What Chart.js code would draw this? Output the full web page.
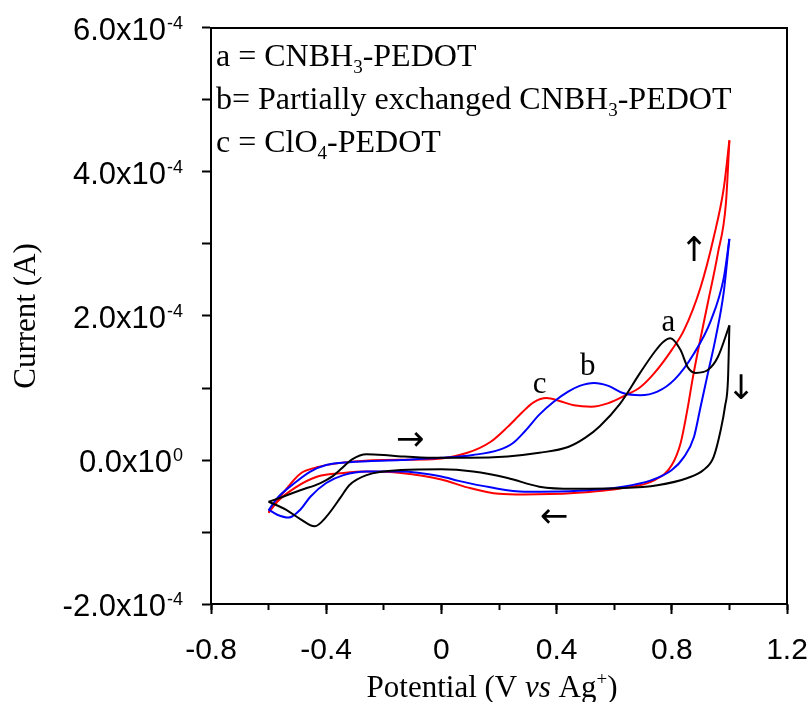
<!DOCTYPE html>
<html>
<head>
<meta charset="utf-8">
<script src="https://cdn.jsdelivr.net/npm/chart.js@4/dist/chart.umd.min.js"></script>
<style>
html,body{margin:0;padding:0;background:#fff;}
#wrap{width:812px;height:702px;position:relative;}
</style>
</head>
<body>
<div id="wrap"><canvas id="c"></canvas></div>
<script>
// Currents are given in units of 1e-4 A
const UNIT = 1e-4;

// a = CNBH3-PEDOT (black)
const aForwardV = [-0.60,-0.55,-0.49,-0.42,-0.376,-0.35,-0.31,-0.26,-0.20,-0.14,-0.03,0.10,0.23,0.34,0.44,0.50,0.55,0.62,0.69,0.74,0.77,0.795,0.83,0.855,0.883,0.925,0.96,1.00];
const aForwardI = [-0.58,-0.51,-0.42,-0.32,-0.22,-0.13,0.01,0.08,0.07,0.05,0.03,0.03,0.05,0.10,0.18,0.31,0.47,0.78,1.21,1.50,1.64,1.69,1.53,1.29,1.21,1.25,1.43,1.87];
const aReverseV = [1.00,0.995,0.985,0.97,0.945,0.91,0.855,0.75,0.63,0.46,0.34,0.23,0.11,0.0,-0.14,-0.26,-0.32,-0.35,-0.40,-0.44,-0.49,-0.54,-0.60];
const aReverseI = [1.87,1.11,0.75,0.42,0.04,-0.14,-0.25,-0.35,-0.39,-0.40,-0.37,-0.25,-0.16,-0.13,-0.14,-0.21,-0.35,-0.52,-0.79,-0.92,-0.82,-0.69,-0.58];

// b = partially exchanged CNBH3-PEDOT (blue)
const bForwardV = [-0.60,-0.57,-0.51,-0.455,-0.40,-0.32,-0.14,0.0,0.11,0.20,0.25,0.29,0.34,0.39,0.44,0.48,0.53,0.58,0.63,0.69,0.75,0.81,0.877,0.936,0.981,1.00];
const bForwardI = [-0.70,-0.53,-0.32,-0.16,-0.07,-0.03,0.0,0.03,0.07,0.14,0.24,0.40,0.63,0.81,0.95,1.03,1.07,1.03,0.93,0.90,0.95,1.12,1.48,1.94,2.54,3.07];
const bReverseV = [1.00,0.98,0.953,0.925,0.90,0.877,0.842,0.80,0.73,0.63,0.46,0.29,0.17,0.06,0.0,-0.14,-0.26,-0.34,-0.40,-0.455,-0.49,-0.53,-0.57,-0.60];
const bReverseI = [3.07,2.32,1.71,1.20,0.74,0.32,0.04,-0.14,-0.28,-0.37,-0.43,-0.44,-0.38,-0.29,-0.23,-0.16,-0.16,-0.21,-0.32,-0.51,-0.69,-0.80,-0.76,-0.69];

// c = ClO4-PEDOT (red)
const cForwardV = [-0.60,-0.55,-0.49,-0.432,-0.35,-0.20,-0.03,0.09,0.17,0.23,0.28,0.32,0.365,0.41,0.46,0.52,0.58,0.64,0.69,0.74,0.80,0.842,0.90,0.946,0.981,1.00];
const cForwardI = [-0.73,-0.46,-0.19,-0.10,-0.04,0.0,0.01,0.10,0.25,0.46,0.66,0.80,0.86,0.82,0.76,0.74,0.79,0.90,1.01,1.21,1.53,1.80,2.40,3.10,3.79,4.44];
const cReverseV = [1.00,0.988,0.96,0.925,0.889,0.872,0.855,0.831,0.80,0.74,0.63,0.46,0.285,0.20,0.09,0.0,-0.14,-0.26,-0.34,-0.43,-0.51,-0.57,-0.60];
const cReverseI = [4.44,3.57,2.87,2.18,1.48,1.12,0.72,0.24,-0.07,-0.28,-0.39,-0.46,-0.48,-0.47,-0.38,-0.27,-0.18,-0.16,-0.18,-0.23,-0.39,-0.58,-0.73];

// axis ticks
const xMajorTicks = [-0.8,-0.4,0,0.4,0.8,1.2];
const yTickValues = [6e-4,4e-4,2e-4,0,-2e-4];
const yTickMain = ['6.0x10','4.0x10','2.0x10','0.0x10','-2.0x10'];
const yTickExp = ['-4','-4','-4','0','-4'];

// annotations (data coordinates: potential V, current in 1e-4 A)
const peakLabels = ['a','b','c'];
const peakLabelV = [0.788,0.508,0.341];
const peakLabelI = [1.79,1.18,0.93];
const arrowGlyphs = ['\u2192','\u2190','\u2191','\u2193'];
const arrowV = [-0.108,0.391,0.877,1.04];
const arrowI = [0.26,-0.81,2.89,0.97];

function pts(V, I){ return V.map((v,i)=>({x:v, y:I[i]*UNIT})); }
function ds(V, I, color){
  return {data:pts(V,I), borderColor:color, backgroundColor:color, borderWidth:2, pointRadius:0, showLine:true,
    cubicInterpolationMode:'monotone', fill:false};
}

const SERIF = '"Liberation Serif", "Times New Roman", serif';
const SANS = '"Liberation Sans", Arial, sans-serif';

function drawRuns(ctx, runs, x, y, align){
  let total = 0;
  for (const r of runs){ ctx.font = r.font; r.w = ctx.measureText(r.t).width; total += r.w; }
  let cx = align === 'center' ? x - total/2 : (align === 'right' ? x - total : x);
  ctx.textAlign = 'left';
  ctx.textBaseline = 'alphabetic';
  for (const r of runs){ ctx.font = r.font; ctx.fillText(r.t, cx, y + (r.dy||0)); cx += r.w; }
}

const overlay = {
  id:'overlay',
  afterDraw(chart){
    const ctx = chart.ctx, ca = chart.chartArea, x = chart.scales.x, y = chart.scales.y;
    ctx.save();
    ctx.fillStyle = '#000';
    ctx.strokeStyle = '#000';
    ctx.lineWidth = 2;
    // frame: top and right
    ctx.beginPath();
    ctx.moveTo(ca.left - 1, ca.top);
    ctx.lineTo(ca.right, ca.top);
    ctx.lineTo(ca.right, ca.bottom + 1);
    ctx.stroke();

    // y tick labels with superscript exponents
    const mainF = '31px ' + SANS, expF = '18px ' + SANS;
    yTickValues.forEach((v,i)=>{
      const py = y.getPixelForValue(v);
      ctx.font = expF;
      const ew = ctx.measureText(yTickExp[i]).width;
      const right = 183;
      drawRuns(ctx, [{t:yTickMain[i], font:mainF}], right - ew - 1, py + 12, 'right');
      drawRuns(ctx, [{t:yTickExp[i], font:expF}], right, py + 0.5, 'right');
    });

    // axis titles
    const titleF = '31px ' + SERIF;
    drawRuns(ctx, [
      {t:'Potential (V ', font:titleF},
      {t:'vs', font:'italic 31px ' + SERIF},
      {t:' Ag', font:titleF},
      {t:'+', font:'19px ' + SERIF, dy:-12},
      {t:')', font:titleF}
    ], 492, 697, 'center');
    ctx.save();
    ctx.translate(27, 316);
    ctx.rotate(-Math.PI/2);
    ctx.font = titleF;
    ctx.textAlign = 'center';
    ctx.textBaseline = 'middle';
    ctx.fillText('Current (A)', 0, 0);
    ctx.restore();

    // legend text
    const lf = '32px ' + SERIF, sf = '19px ' + SERIF;
    const lx = ca.left + 5;
    drawRuns(ctx, [{t:'a = CNBH', font:lf},{t:'3', font:sf, dy:7},{t:'-PEDOT', font:lf}], lx, ca.top + 38, 'left');
    drawRuns(ctx, [{t:'b= Partially exchanged CNBH', font:lf},{t:'3', font:sf, dy:7},{t:'-PEDOT', font:lf}], lx, ca.top + 81, 'left');
    drawRuns(ctx, [{t:'c = ClO', font:lf},{t:'4', font:sf, dy:7},{t:'-PEDOT', font:lf}], lx, ca.top + 124, 'left');

    // peak labels
    peakLabels.forEach((t,i)=>{
      drawRuns(ctx, [{t:t, font:'31px ' + SERIF}], x.getPixelForValue(peakLabelV[i]), y.getPixelForValue(peakLabelI[i]*UNIT), 'center');
    });
    // arrows
    ctx.font = '34px "DejaVu Sans", sans-serif';
    ctx.textAlign = 'center';
    ctx.textBaseline = 'middle';
    arrowGlyphs.forEach((g,i)=>{
      ctx.fillText(g, x.getPixelForValue(arrowV[i]), y.getPixelForValue(arrowI[i]*UNIT));
    });
    ctx.restore();
  }
};

new Chart(document.getElementById('c'), {
  type:'scatter',
  data:{
    datasets:[
      ds(aForwardV, aForwardI, '#000000'),
      ds(aReverseV, aReverseI, '#000000'),
      ds(bForwardV, bForwardI, '#0000ff'),
      ds(bReverseV, bReverseI, '#0000ff'),
      ds(cForwardV, cForwardI, '#ff0000'),
      ds(cReverseV, cReverseI, '#ff0000')
    ]
  },
  options:{
    responsive:true,
    maintainAspectRatio:false,
    animation:false,
    devicePixelRatio:1,
    layout:{padding:{left:0, top:28, right:25, bottom:0}},
    plugins:{legend:{display:false}, tooltip:{enabled:false}},
    scales:{
      x:{
        type:'linear', position:'bottom', min:-0.8, max:1.2,
        afterBuildTicks(s){ s.ticks = xMajorTicks.map(v=>({value:v})); },
        afterFit(s){ s.height = 98; s.paddingLeft = 0; s.paddingRight = 0; },
        grid:{display:true, drawOnChartArea:false, drawTicks:true, tickLength:10, tickWidth:2, tickColor:'#000'},
        border:{display:true, color:'#000', width:2},
        ticks:{color:'#000', font:{family:SANS, size:30}, padding:19, maxRotation:0, autoSkip:false,
          callback:(v)=> String(Math.round(v*10)/10)}
      },
      xMinor:{
        type:'linear', axis:'x', position:{y:-2e-4}, min:-0.8, max:1.2,
        ticks:{display:false, stepSize:0.2},
        grid:{display:true, drawOnChartArea:false, drawTicks:true, tickLength:6, tickWidth:2, tickColor:'#000'},
        border:{display:false}
      },
      y:{
        type:'linear', position:'left', min:-2e-4, max:6e-4,
        afterBuildTicks(s){ const t=[]; for(let k=-2;k<=6;k++) t.push({value:k*UNIT}); s.ticks=t; },
        afterFit(s){ s.width = 211; s.paddingTop = 0; s.paddingBottom = 0; },
        grid:{display:true, drawOnChartArea:false, drawTicks:true, tickLength:9, tickWidth:2, tickColor:'#000'},
        border:{display:true, color:'#000', width:2},
        ticks:{display:false}
      }
    }
  },
  plugins:[overlay]
});
</script>
</body>
</html>
